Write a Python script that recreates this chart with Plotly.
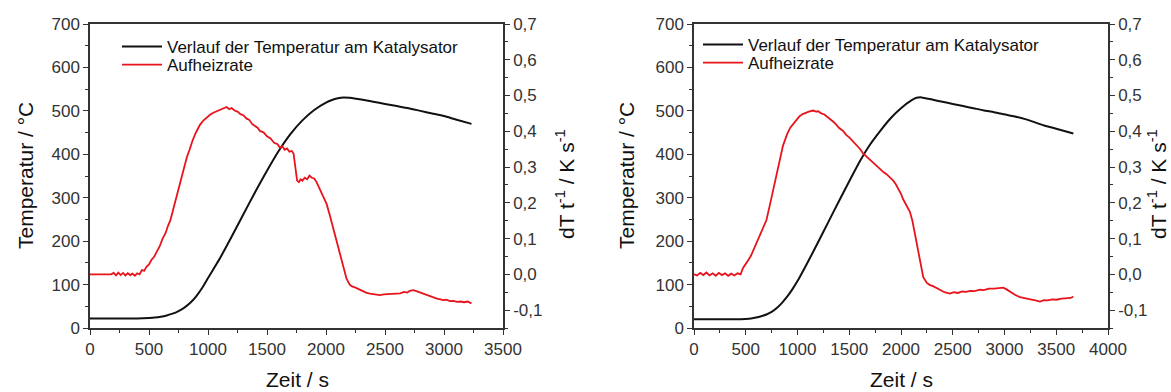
import plotly.graph_objects as go

# ---- Versuch 1 (links) ----
zeit_temp_1 = [0, 200, 400, 500, 550, 600, 650, 700, 750, 800, 850, 900, 950, 1000, 1100, 1200,
               1300, 1400, 1500, 1600, 1700, 1800, 1900, 2000, 2050, 2100, 2150, 2200, 2300,
               2400, 2500, 2600, 2700, 2800, 2900, 3000, 3100, 3233]
temp_1 = [22, 22, 22, 23, 24, 26, 29, 33, 39, 47, 58, 73, 92, 115, 160, 210,
          262, 313, 362, 408, 447, 478, 502, 519, 525, 529, 531, 530, 526,
          521, 516, 511, 506, 500, 494, 488, 480, 470]

zeit_rate_1 = [0, 100, 180, 200, 220, 240, 260, 280, 300, 320, 340, 360, 380, 400, 420, 440, 460,
               480, 500, 520, 545, 565, 590, 615, 640, 660, 680, 700, 720, 740, 760, 780, 800,
               820, 845, 870, 900, 932, 960, 990, 1020, 1045, 1075, 1100, 1130, 1158, 1180, 1200,
               1225, 1250, 1275, 1299, 1325, 1350, 1375, 1400, 1420, 1440, 1470, 1500, 1530, 1560,
               1590, 1610, 1630, 1650, 1670, 1690, 1710, 1725, 1740, 1755, 1770, 1785, 1800, 1820,
               1840, 1860, 1880, 1900, 1920, 1940, 1960, 1980, 2005, 2030, 2060, 2090, 2120, 2150,
               2174, 2200, 2216, 2250, 2280, 2310, 2340, 2372, 2400, 2430, 2456, 2490, 2520, 2560,
               2600, 2630, 2660, 2690, 2710, 2739, 2760, 2790, 2820, 2850, 2880, 2910, 2940, 2970,
               2993, 3020, 3050, 3080, 3110, 3140, 3170, 3200, 3233]
rate_1 = [0.0, 0.0, 0.0, 0.004, -0.003, 0.005, -0.002, 0.004, -0.003, 0.003, -0.002, 0.002, -0.004,
          0.003, 0.0, 0.012, 0.010, 0.022, 0.028, 0.040, 0.050, 0.063, 0.078, 0.100, 0.115, 0.135,
          0.150, 0.175, 0.200, 0.225, 0.252, 0.278, 0.300, 0.327, 0.350, 0.375, 0.398, 0.418,
          0.430, 0.440, 0.447, 0.452, 0.456, 0.461, 0.463, 0.468, 0.462, 0.465, 0.458, 0.455,
          0.448, 0.445, 0.436, 0.432, 0.420, 0.414, 0.410, 0.401, 0.397, 0.386, 0.380, 0.368,
          0.364, 0.354, 0.358, 0.348, 0.352, 0.343, 0.345, 0.338, 0.300, 0.262, 0.258, 0.266,
          0.262, 0.270, 0.266, 0.276, 0.270, 0.268, 0.258, 0.244, 0.232, 0.218, 0.197, 0.168,
          0.130, 0.095, 0.055, 0.018, -0.012, -0.028, -0.033, -0.037, -0.042, -0.047, -0.051,
          -0.054, -0.056, -0.057, -0.058, -0.056, -0.055, -0.054, -0.052, -0.053, -0.049, -0.051,
          -0.046, -0.044, -0.046, -0.050, -0.054, -0.058, -0.062, -0.065, -0.068, -0.070, -0.072,
          -0.071, -0.075, -0.074, -0.077, -0.076, -0.078, -0.076, -0.081]

# ---- Versuch 2 (rechts) ----
zeit_temp_2 = [0, 400, 500, 550, 600, 650, 700, 750, 800, 850, 900, 950, 1000, 1100, 1200, 1300,
               1400, 1500, 1600, 1700, 1800, 1900, 2000, 2100, 2150, 2200, 2300, 2400, 2500, 2600,
               2700, 2800, 2900, 3000, 3100, 3200, 3300, 3400, 3500, 3665]
temp_2 = [20, 20, 21, 22, 24, 27, 31, 37, 46, 58, 72, 89, 108, 152, 198, 245,
          292, 338, 383, 422, 454, 483, 506, 524, 530, 531, 526, 521, 516, 511,
          506, 501, 497, 492, 487, 481, 473, 465, 459, 448]

zeit_rate_2 = [0, 30, 60, 90, 120, 150, 180, 210, 240, 270, 300, 330, 360, 390, 420, 450, 474, 500,
               525, 550, 575, 603, 625, 650, 675, 700, 730, 764, 795, 829, 860, 900, 930, 958, 990,
               1020, 1050, 1080, 1110, 1151, 1180, 1200, 1230, 1260, 1290, 1312, 1340, 1370, 1400,
               1441, 1470, 1500, 1530, 1560, 1600, 1634, 1670, 1700, 1740, 1770, 1796, 1830, 1860,
               1893, 1925, 1950, 1980, 2000, 2021, 2050, 2086, 2110, 2130, 2151, 2180, 2215, 2250,
               2280, 2310, 2344, 2380, 2420, 2473, 2510, 2550, 2590, 2630, 2670, 2710, 2763, 2800,
               2850, 2900, 2950, 2988, 3020, 3060, 3100, 3150, 3200, 3250, 3300, 3343, 3380, 3420,
               3460, 3500, 3550, 3600, 3640, 3665]
rate_2 = [0.0, -0.003, 0.004, -0.002, 0.005, -0.003, 0.003, -0.004, 0.004, -0.002, 0.003, -0.004,
          0.002, -0.003, 0.003, 0.0, 0.018, 0.028, 0.040, 0.052, 0.068, 0.086, 0.100, 0.117, 0.132,
          0.152, 0.190, 0.234, 0.280, 0.327, 0.360, 0.392, 0.410, 0.420, 0.432, 0.442, 0.448,
          0.452, 0.455, 0.458, 0.455, 0.456, 0.450, 0.447, 0.440, 0.437, 0.428, 0.420, 0.410,
          0.401, 0.390, 0.383, 0.374, 0.364, 0.352, 0.338, 0.328, 0.320, 0.310, 0.302, 0.295,
          0.286, 0.280, 0.271, 0.262, 0.252, 0.238, 0.225, 0.210, 0.195, 0.175, 0.150, 0.120,
          0.086, 0.038, -0.008, -0.024, -0.030, -0.033, -0.038, -0.045, -0.050, -0.054, -0.050,
          -0.052, -0.048, -0.049, -0.046, -0.047, -0.043, -0.044, -0.040, -0.040, -0.038, -0.037,
          -0.042, -0.050, -0.057, -0.064, -0.068, -0.070, -0.073, -0.076, -0.072, -0.073, -0.070,
          -0.071, -0.068, -0.067, -0.066, -0.062]

# ---- Achsen ----
temp_ticks = [0, 100, 200, 300, 400, 500, 600, 700]
rate_ticks = [-0.1, 0.0, 0.1, 0.2, 0.3, 0.4, 0.5, 0.6, 0.7]
rate_ticktext = ["-0,1", "0,0", "0,1", "0,2", "0,3", "0,4", "0,5", "0,6", "0,7"]
zeit_ticks_1 = [0, 500, 1000, 1500, 2000, 2500, 3000, 3500]
zeit_ticks_2 = [0, 500, 1000, 1500, 2000, 2500, 3000, 3500, 4000]

name_temp = "Verlauf der Temperatur am Katalysator"
name_rate = "Aufheizrate"

FONT = "Liberation Sans, Arial, sans-serif"
BLACK = "#111111"
RED = "#e8141c"
AXIS = "#333333"

W, H = 1171, 392
dom_x1 = [90 / W, 503 / W]
dom_x2 = [694 / W, 1108 / W]
dom_y = [1 - 328 / H, 1 - 24 / H]

fig = go.Figure()
fig.add_trace(go.Scatter(x=zeit_temp_1, y=temp_1, name=name_temp, mode="lines",
                         line=dict(color=BLACK, width=2, shape="spline", smoothing=0.6),
                         xaxis="x", yaxis="y", legend="legend"))
fig.add_trace(go.Scatter(x=zeit_rate_1, y=rate_1, name=name_rate, mode="lines",
                         line=dict(color=RED, width=1.8),
                         xaxis="x", yaxis="y2", legend="legend2"))
fig.add_trace(go.Scatter(x=zeit_temp_2, y=temp_2, name=name_temp, mode="lines",
                         line=dict(color=BLACK, width=2, shape="spline", smoothing=0.6),
                         xaxis="x2", yaxis="y3", legend="legend3"))
fig.add_trace(go.Scatter(x=zeit_rate_2, y=rate_2, name=name_rate, mode="lines",
                         line=dict(color=RED, width=1.8),
                         xaxis="x2", yaxis="y4", legend="legend4"))

tickfont = dict(family=FONT, size=17, color=AXIS)
common = dict(showline=True, linecolor=AXIS, linewidth=1.5, ticks="outside", ticklen=5,
              tickwidth=1.3, tickcolor=AXIS, tickfont=tickfont, showgrid=False,
              zeroline=False, automargin=False)
minor_style = dict(ticklen=3, tickwidth=1.2, tickcolor=AXIS, showgrid=False)


def xaxis(domain, anchor, tickvals, rng):
    return dict(domain=domain, anchor=anchor, range=rng, tickvals=tickvals,
                mirror=True, minor=dict(dtick=250, **minor_style), **common)


def yleft(anchor):
    return dict(domain=dom_y, anchor=anchor, range=[0, 700], tickvals=temp_ticks,
                minor=dict(dtick=50, **minor_style), **common)


def yright(anchor, overlay):
    return dict(domain=dom_y, anchor=anchor, overlaying=overlay, side="right",
                range=[-0.15, 0.7], tickvals=rate_ticks, ticktext=rate_ticktext,
                minor=dict(tick0=0, dtick=0.05, **minor_style), **common)


def legend_at(x_px, top_px):
    return dict(x=x_px / W, y=1 - top_px / H, font=dict(family=FONT, size=17, color=BLACK),
                bgcolor="rgba(0,0,0,0)", borderwidth=0, itemwidth=40, xanchor="left",
                yanchor="top")


title_font = dict(family=FONT, size=21, color=BLACK)
annotations = [
    dict(text="Temperatur / °C", x=25 / W, y=1 - 176 / H, textangle=-90),
    dict(text="dT t<sup>-1</sup> / K s<sup>-1</sup>", x=565 / W, y=1 - 184 / H, textangle=-90),
    dict(text="Zeit / s", x=297 / W, y=1 - 379 / H, textangle=0),
    dict(text="Temperatur / °C", x=626 / W, y=1 - 176 / H, textangle=-90),
    dict(text="dT t<sup>-1</sup> / K s<sup>-1</sup>", x=1157 / W, y=1 - 184 / H, textangle=-90),
    dict(text="Zeit / s", x=901 / W, y=1 - 379 / H, textangle=0),
]
for a in annotations:
    a.update(xref="paper", yref="paper", showarrow=False, xanchor="center",
             yanchor="middle", font=title_font)

fig.update_layout(
    width=W, height=H, autosize=False,
    margin=dict(l=0, r=0, t=0, b=0, autoexpand=False),
    paper_bgcolor="white", plot_bgcolor="white",
    font=dict(family=FONT),
    xaxis=xaxis(dom_x1, "y", zeit_ticks_1, [0, 3500]),
    yaxis=yleft("x"),
    yaxis2=yright("x", "y"),
    xaxis2=xaxis(dom_x2, "y3", zeit_ticks_2, [0, 4000]),
    yaxis3=yleft("x2"),
    yaxis4=yright("x2", "y3"),
    legend=legend_at(117, 29),
    legend2=legend_at(117, 47),
    legend3=legend_at(698, 27),
    legend4=legend_at(698, 45),
    annotations=annotations,
    showlegend=True,
)

fig.write_html("out.html")
